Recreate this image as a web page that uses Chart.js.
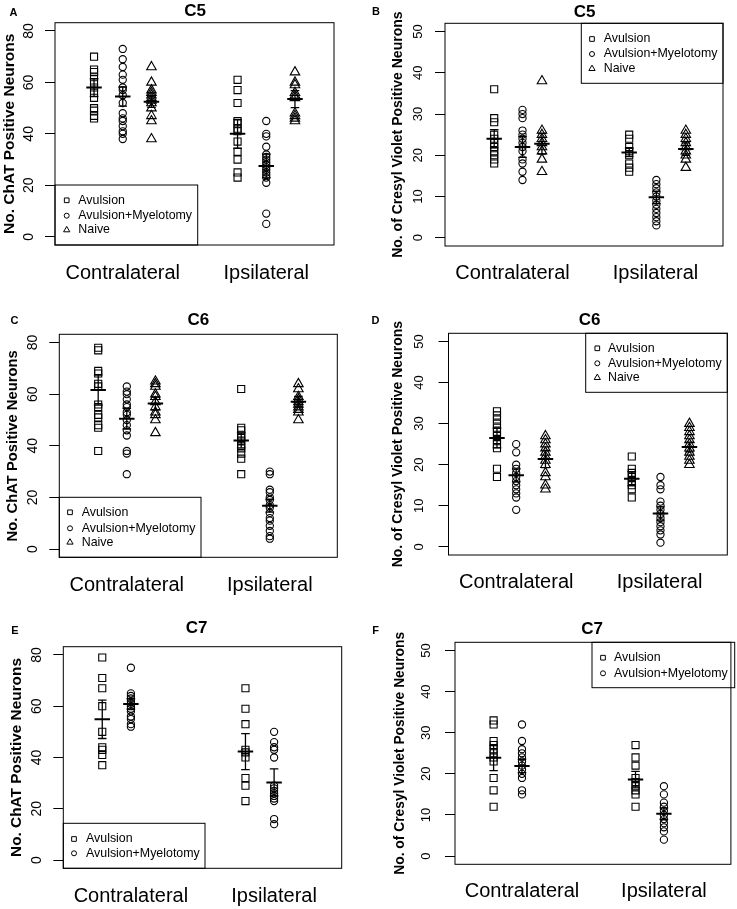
<!DOCTYPE html>
<html>
<head>
<meta charset="utf-8">
<script src="https://cdn.jsdelivr.net/npm/chart.js@4.4.1/dist/chart.umd.min.js"></script>
<style>
html, body { margin: 0; padding: 0; background: #ffffff; }
#wrap { position: relative; width: 737px; height: 909px; overflow: hidden; background: #ffffff; }
#wrap canvas { position: absolute; }
</style>
</head>
<body>
<div id="wrap"></div>
<script>
// ---------------- DATA ----------------
const GROUPS = ["Avulsion", "Avulsion+Myelotomy", "Naive"];
const SIDES = ["Contralateral", "Ipsilateral"];
const SIDE_TICKS = [2, 7];
const CHAT_TICKS = [0, 20, 40, 60, 80];
const CV_TICKS = [0, 10, 20, 30, 40, 50];
const CHAT_TITLE = "No. ChAT Positive Neurons";
const CV_TITLE = "No. of Cresyl Violet Positive Neurons";

// Panel A: C5, ChAT
const A_avul_contra  = [70, 65, 64, 62, 60, 58, 56, 54, 50, 49, 47, 46];
const A_myel_contra  = [73, 69, 66, 63, 61, 58, 57, 55, 52, 48, 46, 45, 43, 41, 40, 38];
const A_naive_contra = [66, 60, 57, 56, 55, 54, 53, 52, 50, 47, 45, 38];
const A_avul_ipsi    = [61, 57, 52, 45, 44, 42, 41, 37, 33, 30, 25, 23];
const A_myel_ipsi    = [45, 40, 39, 35, 32, 31, 30, 29, 28, 27, 26, 25, 24, 23, 21, 9, 5];
const A_naive_ipsi   = [64, 60, 59, 56, 55, 54, 48, 47, 46, 45];
const A_mean = [58, 54.5, 52.5, 40, 27.5, 53.5];
const A_sem  = [3.5, 3.7, 2.2, 5.6, 4.6, 3.3];

// Panel B: C5, Cresyl Violet
const B_avul_contra  = [36, 29, 28, 25, 24, 23, 22, 21, 20, 19, 18];
const B_myel_contra  = [31, 30, 29, 26, 25, 24, 23, 22, 21, 19, 18, 16, 14];
const B_naive_contra = [38, 26, 25, 24, 23, 22, 21, 19, 16];
const B_avul_ipsi    = [25, 24, 22, 21, 20, 18, 17, 16];
const B_myel_ipsi    = [14, 13, 12, 11, 10, 9, 8, 7, 6, 5, 4, 3];
const B_naive_ipsi   = [26, 25, 24, 23, 22, 21, 20, 19, 17];
const B_mean = [24, 22, 22.8, 20.7, 9.8, 21.5];
const B_sem  = [2.2, 2.5, 2.5, 1.0, 1.5, 1.5];

// Panel C: C6, ChAT
const C_avul_contra  = [78, 77, 69, 68, 64, 63, 56, 55, 52, 51, 48, 47, 38];
const C_myel_contra  = [63, 61, 60, 58, 56, 55, 53, 52, 50, 48, 46, 44, 38, 37, 29];
const C_naive_contra = [65, 64, 63, 60, 59, 57, 55, 53, 52, 50, 45];
const C_avul_ipsi    = [62, 47, 46, 44, 43, 42, 40, 39, 37, 35, 29];
const C_myel_ipsi    = [30, 29, 23, 22, 20, 19, 17, 16, 14, 12, 11, 9, 7, 5, 4];
const C_naive_ipsi   = [64, 62, 59, 58, 57, 56, 55, 54, 53, 50];
const C_mean = [61.6, 50.5, 56.4, 42.1, 16.8, 57.1];
const C_sem  = [5.8, 4.0, 2.5, 2.9, 2.5, 2.0];

// Panel D: C6, Cresyl Violet
const D_avul_contra  = [33, 32, 31, 30, 29, 28, 27, 26, 25, 24, 19, 17];
const D_myel_contra  = [25, 23, 20, 19, 18, 17, 16, 15, 14, 13, 12, 9];
const D_naive_contra = [27, 26, 25, 24, 23, 22, 21, 20, 18, 17, 15, 14];
const D_avul_ipsi    = [22, 19, 18, 17, 16, 15, 14, 12];
const D_myel_ipsi    = [17, 15, 14, 11, 10, 9, 8, 7, 6, 5, 4, 3, 1];
const D_naive_ipsi   = [30, 29, 28, 27, 26, 25, 24, 23, 22, 21, 20];
const D_mean = [26.5, 17.4, 21.4, 16.6, 8.1, 24.3];
const D_sem  = [2.4, 1.6, 2.1, 1.7, 1.6, 1.2];

// Panel E: C7, ChAT
const E_avul_contra = [79, 71, 67, 60, 50, 44, 43, 41, 37];
const E_myel_contra = [75, 65, 64, 63, 62, 61, 60, 59, 58, 56, 55, 53, 52];
const E_avul_ipsi   = [67, 59, 53, 43, 42, 40, 32, 29, 23];
const E_myel_ipsi   = [50, 46, 44, 43, 40, 29, 28, 27, 26, 25, 24, 23, 16, 14];
const E_mean = [54.9, 60.9, 42.3, 30.3];
const E_sem  = [7.5, 2.0, 7.0, 5.3];

// Panel F: C7, Cresyl Violet
const F_avul_contra = [33, 32, 28, 27, 26, 25, 24, 23, 19, 16, 12];
const F_myel_contra = [32, 28, 26, 25, 24, 23, 22, 21, 20, 19, 16, 15];
const F_avul_ipsi   = [27, 24, 22, 19, 18, 17, 16, 15, 12];
const F_myel_ipsi   = [17, 15, 13, 12, 11, 10, 9, 8, 7, 6, 4];
const F_mean = [23.9, 21.9, 18.6, 10.3];
const F_sem  = [3.1, 1.6, 2.0, 1.4];

// ---------------- STYLE / LAYOUT ----------------
const FONT = '"Liberation Sans", Arial, Helvetica, sans-serif';
const PT_STYLE = ['rect', 'circle', 'triangle'];
const PT_R = [5.0, 3.6, 5.5];
const LEG_R = [3.3, 2.5, 3.6];

const panels = [
  { letter: 'A', title: 'C5', yTitle: CHAT_TITLE, yTicks: CHAT_TICKS, yMin: -3.2, yMax: 83.2,
    series: [A_avul_contra, A_myel_contra, A_naive_contra, A_avul_ipsi, A_myel_ipsi, A_naive_ipsi],
    means: A_mean, sems: A_sem, groupsIdx: [0,1,2,0,1,2], pos: [1,2,3,6,7,8], legendN: 3,
    x: 0, y: 0, w: 368, h: 300, area: {l: 55, t: 22.7, r: 334, b: 245},
    yTickFont: 14, yTickCx: 29, yTitleFont: 15.5, yTitleCx: 10, xLabDy: 28,
    tx: 195, ty: 11, lx: 13.5, ly: 13,
    leg: {x0: 55, y0: 185, x1: 197.7, y1: 245, rows: [200.3, 215.7, 230], sx: 66.7, tx: 78.3} },
  { letter: 'B', title: 'C5', yTitle: CV_TITLE, yTicks: CV_TICKS, yMin: -2, yMax: 52,
    series: [B_avul_contra, B_myel_contra, B_naive_contra, B_avul_ipsi, B_myel_ipsi, B_naive_ipsi],
    means: B_mean, sems: B_sem, groupsIdx: [0,1,2,0,1,2], pos: [1.36, 2.35, 3.03, 6.08, 7.03, 8.06], legendN: 3,
    x: 368, y: 0, w: 369, h: 300, area: {l: 77, t: 23.3, r: 355, b: 246},
    yTickFont: 13, yTickCx: 50.5, yTitleFont: 14, yTitleCx: 30.5, xLabDy: 27.5,
    tx: 216.7, ty: 12, lx: 8, ly: 11.5,
    leg: {x0: 213.3, y0: 23.3, x1: 355, y1: 83.3, rows: [39, 54, 68.7], sx: 224, tx: 235.7} },
  { letter: 'C', title: 'C6', yTitle: CHAT_TITLE, yTicks: CHAT_TICKS, yMin: -3.2, yMax: 83.2,
    series: [C_avul_contra, C_myel_contra, C_naive_contra, C_avul_ipsi, C_myel_ipsi, C_naive_ipsi],
    means: C_mean, sems: C_sem, groupsIdx: [0,1,2,0,1,2], pos: [1,2,3,6,7,8], legendN: 3,
    x: 0, y: 300, w: 368, h: 305, area: {l: 59.3, t: 34.3, r: 337.3, b: 257.3},
    yTickFont: 14, yTickCx: 33, yTitleFont: 14.8, yTitleCx: 12.5, xLabDy: 27.7,
    tx: 198.3, ty: 20.7, lx: 14.5, ly: 20.5,
    leg: {x0: 59.3, y0: 197.3, x1: 201, y1: 257.3, rows: [212.3, 228.3, 242.3], sx: 70, tx: 81.7} },
  { letter: 'D', title: 'C6', yTitle: CV_TITLE, yTicks: CV_TICKS, yMin: -2, yMax: 52,
    series: [D_avul_contra, D_myel_contra, D_naive_contra, D_avul_ipsi, D_myel_ipsi, D_naive_ipsi],
    means: D_mean, sems: D_sem, groupsIdx: [0,1,2,0,1,2], pos: [1.33, 2.0, 3.02, 6.03, 7.03, 8.04], legendN: 3,
    x: 368, y: 300, w: 369, h: 305, area: {l: 80.5, t: 33.3, r: 359.3, b: 255},
    yTickFont: 13, yTickCx: 51, yTitleFont: 14, yTitleCx: 30, xLabDy: 27.7,
    tx: 221.7, ty: 20.7, lx: 7.5, ly: 20.5,
    leg: {x0: 217.7, y0: 33.3, x1: 359.3, y1: 92.3, rows: [48.3, 63.3, 77.7], sx: 229.3, tx: 240} },
  { letter: 'E', title: 'C7', yTitle: CHAT_TITLE, yTicks: CHAT_TICKS, yMin: -3.2, yMax: 83.2,
    series: [E_avul_contra, E_myel_contra, E_avul_ipsi, E_myel_ipsi],
    means: E_mean, sems: E_sem, groupsIdx: [0,1,0,1], pos: [1,2,6,7], legendN: 2,
    x: 0, y: 605, w: 368, h: 304, area: {l: 63.3, t: 41.7, r: 341.7, b: 263.3},
    yTickFont: 14, yTickCx: 37, yTitleFont: 15.4, yTitleCx: 16.5, xLabDy: 28.2,
    tx: 196.7, ty: 23.8, lx: 15, ly: 25.5,
    leg: {x0: 63.3, y0: 218.3, x1: 205, y1: 263.3, rows: [234, 248.3], sx: 74, tx: 86} },
  { letter: 'F', title: 'C7', yTitle: CV_TITLE, yTicks: CV_TICKS, yMin: -2, yMax: 52,
    series: [F_avul_contra, F_myel_contra, F_avul_ipsi, F_myel_ipsi],
    means: F_mean, sems: F_sem, groupsIdx: [0,1,0,1], pos: [1,2,6,7], legendN: 2,
    x: 368, y: 605, w: 369, h: 304, area: {l: 87, t: 37.3, r: 366.7, b: 259.3},
    yTickFont: 13, yTickCx: 58.5, yTitleFont: 13.8, yTitleCx: 32, xLabDy: 27.4,
    tx: 224, ty: 24, lx: 7.5, ly: 25.5,
    leg: {x0: 224, y0: 37.3, x1: 366.7, y1: 82.7, rows: [52.7, 68.3], sx: 235, tx: 246} }
];

const decorPlugin = {
  id: 'decor',
  afterDraw(chart, args, o) {
    const ctx = chart.ctx, a = chart.chartArea;
    ctx.save();
    ctx.strokeStyle = '#000';
    ctx.lineWidth = 1;
    ctx.strokeRect(a.left, a.top, a.right - a.left, a.bottom - a.top);
    const L = o.leg;
    ctx.strokeRect(L.x0, L.y0, L.x1 - L.x0, L.y1 - L.y0);
    for (let i = 0; i < o.legendN; i++) {
      ctx.fillStyle = 'rgba(0,0,0,0)';
      ctx.strokeStyle = '#000';
      ctx.lineWidth = 1;
      Chart.helpers.drawPoint(ctx, {pointStyle: PT_STYLE[i], radius: LEG_R[i], borderWidth: 1, rotation: 0}, L.sx, L.rows[i]);
      ctx.fillStyle = '#000';
      ctx.font = '12.4px ' + FONT;
      ctx.textAlign = 'left';
      ctx.textBaseline = 'middle';
      ctx.fillText(GROUPS[i], L.tx, L.rows[i]);
    }
    ctx.fillStyle = '#000';
    ctx.textAlign = 'center';
    ctx.textBaseline = 'middle';
    ctx.font = 'bold 17px ' + FONT;
    ctx.fillText(o.title, o.tx, o.ty);
    ctx.font = 'bold 11px ' + FONT;
    ctx.fillText(o.letter, o.lx, o.ly);
    ctx.restore();
  }
};

const measureCtx = document.createElement('canvas').getContext('2d');
function widest(labels, size) {
  measureCtx.font = size + 'px ' + FONT;
  return Math.max.apply(null, labels.map(t => measureCtx.measureText(String(t)).width));
}

const wrap = document.getElementById('wrap');
const TICK_LEN = 10;

panels.forEach(p => {
  const cv = document.createElement('canvas');
  cv.width = p.w; cv.height = p.h;
  cv.style.left = p.x + 'px'; cv.style.top = p.y + 'px';
  cv.style.width = p.w + 'px'; cv.style.height = p.h + 'px';
  wrap.appendChild(cv);

  const datasets = [];
  p.series.forEach((vals, i) => {
    const g = p.groupsIdx[i];
    datasets.push({
      type: 'scatter',
      data: vals.map(v => ({x: p.pos[i], y: v})),
      pointStyle: PT_STYLE[g], pointRadius: PT_R[g], pointHoverRadius: PT_R[g],
      pointBorderColor: '#000', pointBackgroundColor: 'rgba(0,0,0,0)', pointBorderWidth: 1.1,
      borderColor: '#000', backgroundColor: 'rgba(0,0,0,0)', showLine: false
    });
  });
  p.means.forEach((m, i) => {
    const x = p.pos[i], s = p.sems[i];
    const segs = [
      [x - 0.27, m, x + 0.27, m, 2],
      [x, m - s, x, m + s, 1.3],
      [x - 0.15, m + s, x + 0.15, m + s, 1.3],
      [x - 0.15, m - s, x + 0.15, m - s, 1.3]
    ];
    segs.forEach(sg => datasets.push({
      type: 'line',
      data: [{x: sg[0], y: sg[1]}, {x: sg[2], y: sg[3]}],
      borderColor: '#000', borderWidth: sg[4], pointRadius: 0, fill: false, tension: 0,
      borderCapStyle: 'butt'
    }));
  });

  const wTick = widest(p.yTicks, p.yTickFont);
  const yTickPad = p.area.l - TICK_LEN - wTick / 2 - p.yTickCx;
  const yTitleLH = p.yTitleFont * 1.2;
  const xLabLH = 20 * 1.2;

  new Chart(cv, {
    type: 'scatter',
    data: {datasets},
    plugins: [decorPlugin],
    options: {
      responsive: false,
      animation: false,
      devicePixelRatio: 1,
      events: [],
      layout: {padding: {left: 0, top: p.area.t, right: p.w - p.area.r, bottom: 0}},
      plugins: {
        legend: {display: false},
        tooltip: {enabled: false},
        decor: {title: p.title, tx: p.tx, ty: p.ty, letter: p.letter, lx: p.lx, ly: p.ly, leg: p.leg, legendN: p.legendN}
      },
      scales: {
        x: {
          type: 'linear', min: -0.36, max: 9.36,
          afterFit: s => { s.height = p.h - p.area.b; },
          afterBuildTicks: s => { s.ticks = SIDE_TICKS.map(v => ({value: v})); },
          ticks: {
            callback: (v, i) => SIDES[i],
            font: {family: FONT, size: 20, lineHeight: 1.2},
            color: '#000', padding: p.xLabDy - xLabLH / 2,
            autoSkip: false, maxRotation: 0, minRotation: 0
          },
          grid: {display: false, drawTicks: false},
          border: {display: false}
        },
        y: {
          type: 'linear', min: p.yMin, max: p.yMax,
          afterFit: s => { s.width = p.area.l; },
          afterBuildTicks: s => { s.ticks = p.yTicks.map(v => ({value: v})); },
          ticks: {
            callback: v => String(v),
            font: {family: FONT, size: p.yTickFont, lineHeight: 1.2},
            color: '#000', minRotation: 90, maxRotation: 90, crossAlign: 'center',
            padding: yTickPad, autoSkip: false
          },
          grid: {display: true, drawOnChartArea: false, drawTicks: true, tickLength: TICK_LEN, color: '#000', lineWidth: 1},
          border: {display: false},
          title: {
            display: true, text: p.yTitle, color: '#000',
            font: {family: FONT, size: p.yTitleFont, weight: 'bold', lineHeight: 1.2},
            padding: {top: p.yTitleCx - yTitleLH / 2, bottom: 0}
          }
        }
      }
    }
  });
});
</script>
</body>
</html>
